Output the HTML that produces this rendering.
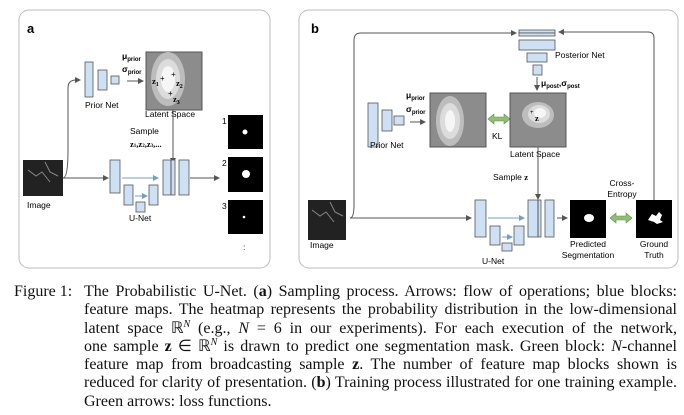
<!DOCTYPE html>
<html><head><meta charset="utf-8"><style>
body{margin:0;width:684px;height:415px;background:#fff;overflow:hidden;font-family:"Liberation Sans",sans-serif}
svg{position:absolute;left:0;top:0}
.cap{position:absolute;font-family:"Liberation Serif",serif;font-size:16px;color:#111;line-height:18.3px}
.cap div{text-align:justify;text-align-last:justify;white-space:nowrap;height:18.3px}
.cap div.last{text-align-last:left}
.cap sup{font-size:10px;font-style:italic;vertical-align:baseline;position:relative;top:-6px;line-height:0}
</style></head><body>
<svg width="684" height="275" font-family="Liberation Sans, sans-serif">
<defs>
<marker id="ah" markerWidth="6" markerHeight="6" refX="5" refY="3" orient="auto"><path d="M0,0 L6,3 L0,6 z" fill="#555"/></marker>
<marker id="ahb" markerWidth="6" markerHeight="6" refX="5" refY="3" orient="auto"><path d="M0,0 L6,3 L0,6 z" fill="#6f9fd0"/></marker>
</defs>
<g>
<rect x="19" y="10" width="251" height="258" rx="10" fill="#fff" stroke="#bbb"/>
<text x="27" y="33" font-size="13" font-weight="bold">a</text>
<g fill="#cde0f4" stroke="#555" stroke-width="0.8">
<rect x="85" y="62" width="8" height="35"/><rect x="98" y="70" width="9" height="20"/><rect x="111" y="76" width="8" height="8"/></g>
<text x="85" y="108" font-size="8.5">Prior Net</text>
<path d="M63,178 Q68,178 68,150 L68,88 Q68,80 76,80 L80,80" fill="none" stroke="#555" marker-end="url(#ah)"/>
<text x="122" y="59" font-size="8.5" font-weight="bold">μ<tspan font-size="6" dy="2">prior</tspan></text>
<text x="122" y="72" font-size="8.5" font-weight="bold">σ<tspan font-size="6" dy="2">prior</tspan></text>
<line x1="127" y1="81" x2="143" y2="81" stroke="#555" marker-end="url(#ah)"/>
<rect x="146" y="52" width="56" height="58" fill="#8c8c8c" stroke="#555"/>
<ellipse cx="168" cy="79" rx="17" ry="27" fill="#bdbdbd"/>
<ellipse cx="168" cy="79" rx="12" ry="20" fill="#dcdcdc"/>
<ellipse cx="168" cy="79" rx="7" ry="13" fill="#f6f6f6"/>
<text x="152" y="84" font-size="8.5" font-family="Liberation Serif" font-weight="bold">z<tspan font-size="6" dy="2">1</tspan></text>
<text x="160" y="81" font-size="8">+</text><text x="171" y="77" font-size="8">+</text>
<text x="176" y="86" font-size="8.5" font-family="Liberation Serif" font-weight="bold">z<tspan font-size="6" dy="2">2</tspan></text>
<text x="168" y="96" font-size="8">+</text>
<text x="173" y="102" font-size="8.5" font-family="Liberation Serif" font-weight="bold">z<tspan font-size="6" dy="2">3</tspan></text>
<text x="145" y="117" font-size="8.5">Latent Space</text>
<text x="130" y="134" font-size="8.5">Sample</text>
<text x="130" y="147" font-size="8.5" font-family="Liberation Serif" font-weight="bold">z<tspan font-size="5">1</tspan>,z<tspan font-size="5">2</tspan>,z<tspan font-size="5">3</tspan>,...</text>
<line x1="173" y1="110" x2="173" y2="163" stroke="#555" marker-end="url(#ah)"/>
<rect x="23" y="160" width="40" height="36" fill="#222"/>
<path d="M28,170 l8,6 l6,-4 l8,10 M45,162 l5,10 l8,4" stroke="#888" fill="none"/>
<text x="27" y="208" font-size="8.5">Image</text>
<line x1="63" y1="178" x2="108" y2="178" stroke="#555" marker-end="url(#ah)"/>
<g fill="#cde0f4" stroke="#555" stroke-width="0.8">
<rect x="110" y="160" width="10" height="33"/><rect x="124" y="185" width="9" height="20"/><rect x="136" y="202" width="9" height="10"/><rect x="149" y="185" width="9" height="20"/><rect x="163" y="160" width="12" height="35"/><rect x="179" y="160" width="10" height="35"/></g>
<line x1="171" y1="160" x2="171" y2="195" stroke="#555"/>
<line x1="122" y1="178" x2="158" y2="178" stroke="#6f9fd0" marker-end="url(#ahb)"/>
<line x1="135" y1="196" x2="147" y2="196" stroke="#6f9fd0" marker-end="url(#ahb)"/>
<text x="129" y="221" font-size="8.5">U-Net</text>
<line x1="190" y1="178" x2="219" y2="178" stroke="#555" marker-end="url(#ah)"/>
<g>
<text x="222" y="124" font-size="8.5">1</text><rect x="228" y="115" width="35" height="34" fill="#000"/><circle cx="245" cy="132" r="2.5" fill="#fff"/>
<text x="222" y="166" font-size="8.5">2</text><rect x="228" y="157" width="35" height="35" fill="#000"/><circle cx="246" cy="174" r="4" fill="#fff"/>
<text x="222" y="209" font-size="8.5">3</text><rect x="228" y="200" width="35" height="34" fill="#000"/><circle cx="244" cy="217" r="1.3" fill="#fff"/>
<text x="243" y="250" font-size="8.5">:</text></g>
</g>
<g>
<rect x="299" y="10" width="379" height="258" rx="10" fill="#fff" stroke="#bbb"/>
<text x="311" y="33" font-size="13" font-weight="bold">b</text>
<path d="M350,218 Q354,218 354,205 L354,40 Q354,33 361,33 L516,33" fill="none" stroke="#555" marker-end="url(#ah)"/>
<path d="M654,200 L654,38 Q654,32 648,32 L559,32" fill="none" stroke="#555" marker-end="url(#ah)"/>
<g fill="#cde0f4" stroke="#555" stroke-width="0.8">
<rect x="519" y="30" width="36" height="3"/><rect x="519" y="33" width="36" height="3"/><rect x="519" y="40" width="36" height="10"/><rect x="527" y="53" width="20" height="9"/><rect x="533" y="65" width="9" height="10"/></g>
<text x="555" y="58" font-size="8.5">Posterior Net</text>
<line x1="537" y1="77" x2="537" y2="90" stroke="#555" marker-end="url(#ah)"/>
<text x="541" y="86" font-size="8.5" font-weight="bold">μ<tspan font-size="6" dy="2">post</tspan><tspan dy="-2">,σ</tspan><tspan font-size="6" dy="2">post</tspan></text>
<g fill="#cde0f4" stroke="#555" stroke-width="0.8">
<rect x="368" y="103" width="10" height="44"/><rect x="382" y="110" width="10" height="21"/><rect x="394" y="116" width="10" height="9"/></g>
<text x="370" y="148" font-size="8.5">Prior Net</text>
<text x="406" y="98" font-size="8.5" font-weight="bold">μ<tspan font-size="6" dy="2">prior</tspan></text>
<text x="406" y="112" font-size="8.5" font-weight="bold">σ<tspan font-size="6" dy="2">prior</tspan></text>
<line x1="410" y1="122" x2="425" y2="122" stroke="#555" marker-end="url(#ah)"/>
<rect x="430" y="93" width="56" height="54" fill="#8c8c8c" stroke="#555"/>
<ellipse cx="450" cy="121" rx="14" ry="25" fill="#bdbdbd"/>
<ellipse cx="450" cy="121" rx="10" ry="18" fill="#dcdcdc"/>
<ellipse cx="450" cy="121" rx="5" ry="11" fill="#f6f6f6"/>
<path d="M488,119 l6,-5 v3 h10 v-3 l6,5 l-6,5 v-3 h-10 v3 z" fill="#8fbf6f" stroke="#5f8f4f" stroke-width="0.6"/>
<text x="492" y="139" font-size="8.5">KL</text>
<rect x="510" y="93" width="56" height="54" fill="#8c8c8c" stroke="#555"/>
<ellipse cx="538" cy="115" rx="16" ry="13" fill="#bdbdbd"/>
<ellipse cx="539" cy="114" rx="11" ry="9" fill="#dcdcdc"/>
<ellipse cx="540" cy="113" rx="6" ry="5" fill="#f6f6f6"/>
<text x="530" y="114" font-size="6">+</text>
<text x="535" y="121" font-size="8.5" font-family="Liberation Serif" font-weight="bold">z</text>
<text x="510" y="157" font-size="8.5">Latent Space</text>
<line x1="538" y1="147" x2="538" y2="199" stroke="#555" marker-end="url(#ah)"/>
<text x="493" y="180" font-size="8.5">Sample <tspan font-family="Liberation Serif" font-weight="bold">z</tspan></text>
<rect x="308" y="200" width="38" height="40" fill="#222"/>
<path d="M312,210 l8,6 l6,-4 l8,10 M330,202 l5,10 l8,4" stroke="#888" fill="none"/>
<text x="310" y="248" font-size="8.5">Image</text>
<line x1="350" y1="218" x2="471" y2="218" stroke="#555" marker-end="url(#ah)"/>
<g fill="#cde0f4" stroke="#555" stroke-width="0.8">
<rect x="475" y="200" width="11" height="37"/><rect x="490" y="226" width="10" height="19"/><rect x="502" y="243" width="10" height="8"/><rect x="514" y="226" width="10" height="19"/><rect x="528" y="200" width="13" height="37"/><rect x="545" y="200" width="9" height="37"/></g>
<line x1="538" y1="200" x2="538" y2="237" stroke="#555"/>
<line x1="488" y1="218" x2="524" y2="218" stroke="#6f9fd0" marker-end="url(#ahb)"/>
<line x1="502" y1="237" x2="512" y2="237" stroke="#6f9fd0" marker-end="url(#ahb)"/>
<text x="482" y="264" font-size="8.5">U-Net</text>
<line x1="557" y1="218" x2="567" y2="218" stroke="#555" marker-end="url(#ah)"/>
<rect x="570" y="200" width="36" height="38" fill="#000"/>
<ellipse cx="589" cy="218" rx="5" ry="4" fill="#fff"/>
<text x="588" y="247" font-size="8.5" text-anchor="middle">Predicted</text>
<text x="588" y="258" font-size="8.5" text-anchor="middle">Segmentation</text>
<path d="M610,218 l6,-5 v3 h10 v-3 l6,5 l-6,5 v-3 h-10 v3 z" fill="#8fbf6f" stroke="#5f8f4f" stroke-width="0.6"/>
<text x="622" y="186" font-size="8.5" text-anchor="middle">Cross-</text>
<text x="622" y="197" font-size="8.5" text-anchor="middle">Entropy</text>
<rect x="636" y="200" width="36" height="38" fill="#000"/>
<path d="M648,220 l4,-6 l4,2 l3,-4 l3,3 l-2,5 l3,2 l-6,2 l-3,-2 z" fill="#fff"/>
<text x="654" y="247" font-size="8.5" text-anchor="middle">Ground</text>
<text x="654" y="258" font-size="8.5" text-anchor="middle">Truth</text>
</g>
</svg>
<div class="cap" style="left:14px;top:283px;width:663px">
<span style="position:absolute;left:0;top:0">Figure 1:</span>
<div style="margin-left:70px">The Probabilistic U-Net. (<b>a</b>) Sampling process. Arrows: flow of operations; blue blocks:</div>
<div style="margin-left:70px">feature maps. The heatmap represents the probability distribution in the low-dimensional</div>
<div style="margin-left:70px">latent space ℝ<sup>N</sup> (e.g., <i>N</i> = 6 in our experiments). For each execution of the network,</div>
<div style="margin-left:70px">one sample <b>z</b> ∈ ℝ<sup>N</sup> is drawn to predict one segmentation mask. Green block: <i>N</i>-channel</div>
<div style="margin-left:70px">feature map from broadcasting sample <b>z</b>. The number of feature map blocks shown is</div>
<div style="margin-left:70px">reduced for clarity of presentation. (<b>b</b>) Training process illustrated for one training example.</div>
<div class="last" style="margin-left:70px">Green arrows: loss functions.</div>
</div>
</body></html>
